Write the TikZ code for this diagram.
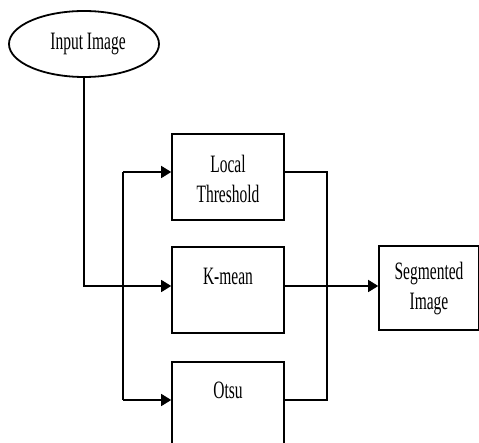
\documentclass[tikz,border=0pt]{standalone}
\usepackage{fontspec}
\setmainfont{Liberation Serif}
\usetikzlibrary{shapes.geometric,arrows.meta}
\begin{document}
\begin{tikzpicture}[x=1pt,y=-1pt,
  box/.style={draw,line width=1.6pt,minimum width=112pt,minimum height=86pt,inner sep=0pt},
  lbl/.style={font=\fontsize{25}{30}\selectfont,xscale=0.62,align=center,inner sep=0pt},
  conn/.style={line width=1.4pt},
  arr/.style={conn,-{Triangle[length=10pt,width=12pt]}}]
\clip (0,0) rectangle (479,443);
\fill[white] (0,0) rectangle (479,443);
\node[draw,ellipse,line width=1.8pt,minimum width=150pt,minimum height=66pt,inner sep=0pt] (in) at (84,44) {};
\node[lbl] (intxt) at (88,44) {Input Image};
\node[box] (lt) at (228,177) {};
\node[lbl] (lttxt) at (228,179) {Local\\Threshold};
\node[box] (km) at (228,290) {};
\node[lbl] (kmtxt) at (228,276) {K-mean};
\node[box] (ot) at (228,405) {};
\node[lbl] (ottxt) at (228,390) {Otsu};
\node[box,minimum width=100pt,minimum height=84pt] (seg) at (429,288) {};
\node[lbl] (segtxt) at (429,289) {Segmented\\Image};
\coordinate (jl) at (123,172);
\coordinate (jr) at (327,172);
\draw[arr] (in.south) |- (km.west |- 0,286);
\draw[conn] (jl) -- (jl |- 0,400);
\draw[arr] (jl) -- (lt.west |- jl);
\draw[arr] (jl |- 0,400) -- (ot.west |- 0,400);
\draw[conn] (lt.east |- jr) -- (jr) -- (jr |- 0,400) -- (ot.east |- 0,400);
\draw[arr] (km.east |- 0,286) -- (seg.west |- 0,286);
\end{tikzpicture}
\end{document}
